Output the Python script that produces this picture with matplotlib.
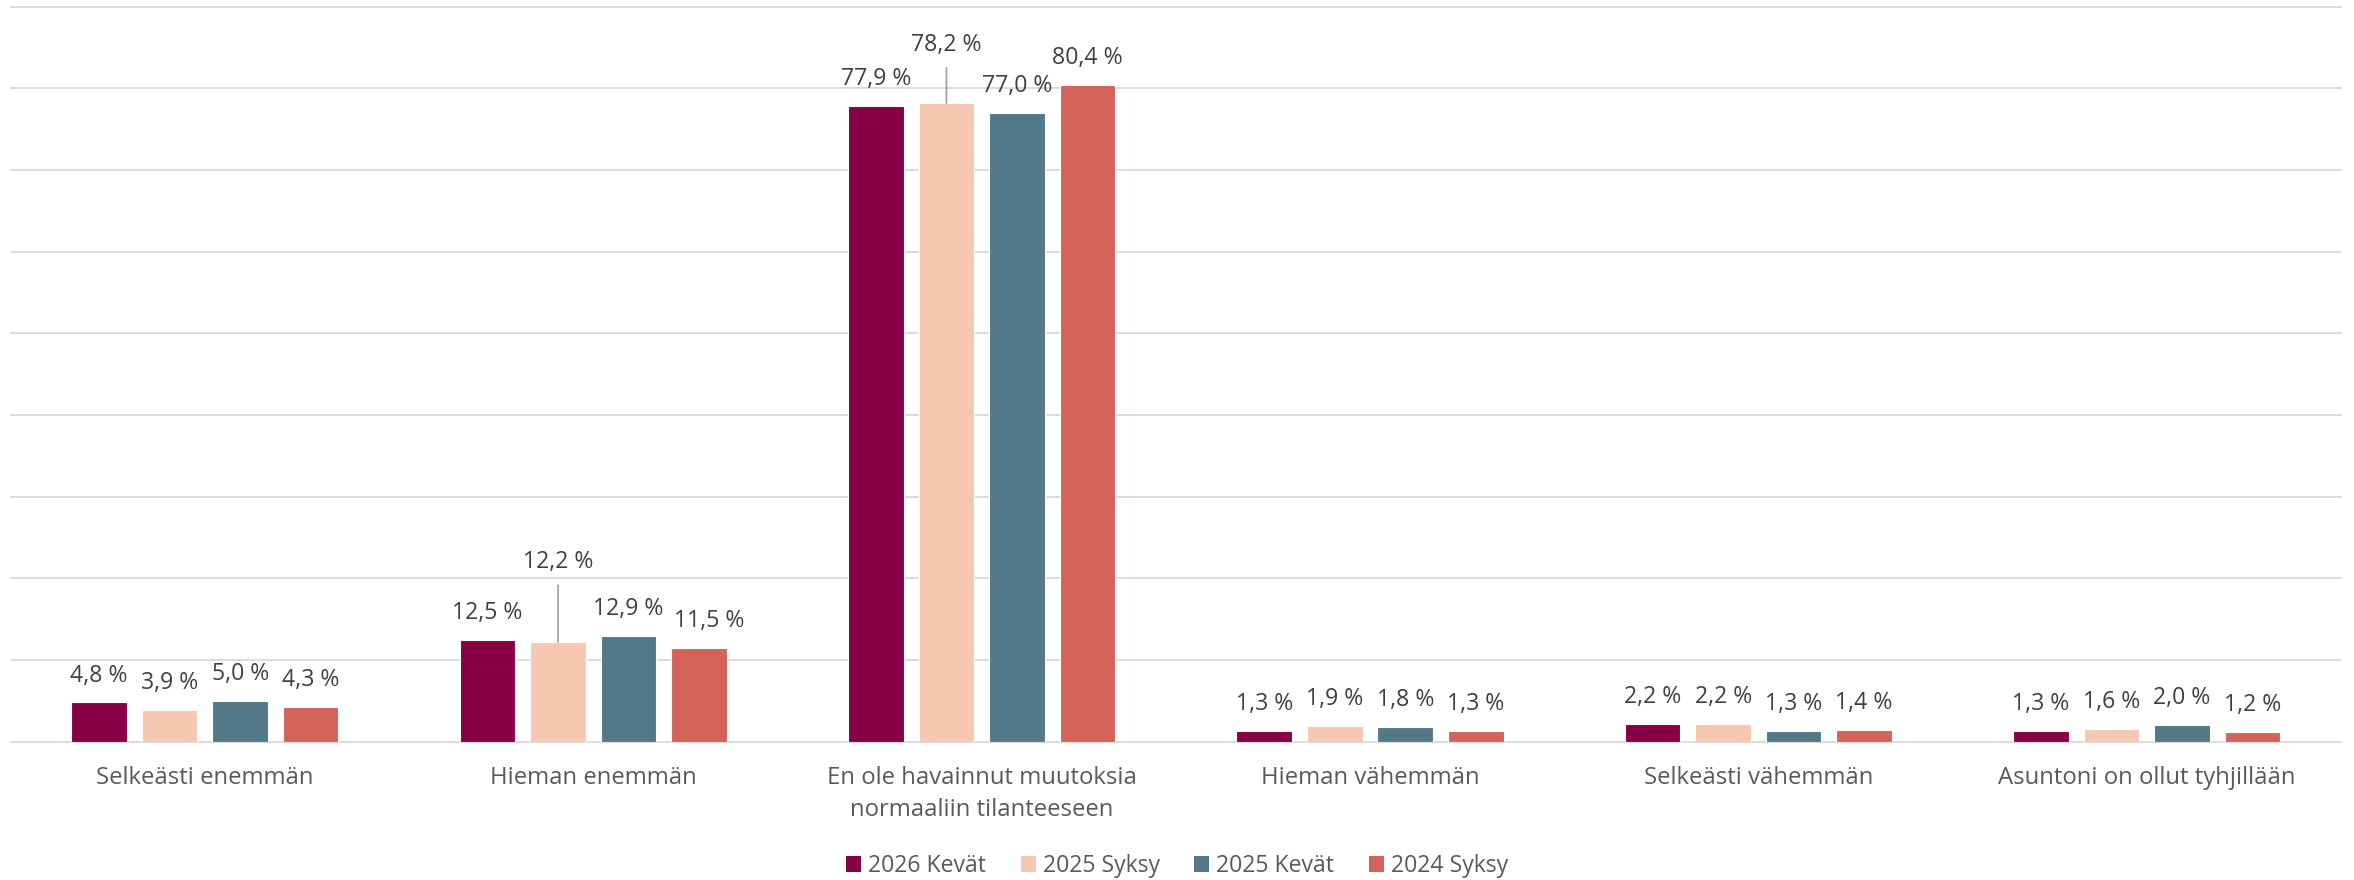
import matplotlib
matplotlib.use('Agg')
import numpy as np
import matplotlib.pyplot as plt
from matplotlib.patches import Patch

plt.rcParams['font.family'] = ['Open Sans', 'DejaVu Sans']

categories = ["Selkeästi enemmän", "Hieman enemmän",
              "En ole havainnut muutoksia\nnormaaliin tilanteeseen",
              "Hieman vähemmän", "Selkeästi vähemmän", "Asuntoni on ollut tyhjillään"]
series_names = ["2026 Kevät", "2025 Syksy", "2025 Kevät", "2024 Syksy"]
kevat_2026 = [4.8, 12.5, 77.9, 1.3, 2.2, 1.3]
syksy_2025 = [3.9, 12.2, 78.2, 1.9, 2.2, 1.6]
kevat_2025 = [5.0, 12.9, 77.0, 1.8, 1.3, 2.0]
syksy_2024 = [4.3, 11.5, 80.4, 1.3, 1.4, 1.2]
grid_values = list(range(0, 100, 10))

colors = ['#870045', '#F6C8B1', '#537887', '#D4645A']
series = [kevat_2026, syksy_2025, kevat_2025, syksy_2024]

# labels that were pushed away from their bar (series index, category index) -> offset in points
label_moves = {(1, 2): (0, 42), (1, 1): (0, 57.5), (3, 1): (7, 19.4)}

fig = plt.figure(figsize=(23.54, 8.8), dpi=100)
ax = fig.add_axes([0.00455, 0.1572, 0.9899, 0.8352])

x = np.arange(len(categories))
width = 0.1434
pitch = 0.1815
fs = 16.6

for v in grid_values:
    ax.axhline(v, color='#D9D9D9', lw=1.3, zorder=0, clip_on=False)

for i, (name, vals) in enumerate(zip(series_names, series)):
    pos = x + (i - 1.5) * pitch
    ax.bar(pos, vals, width, color=colors[i], edgecolor='white', linewidth=0.8,
           label=name, zorder=2)
    for j, (px, v) in enumerate(zip(pos, vals)):
        lab = f"{v:.1f} %".replace('.', ',')
        dx, dy = label_moves.get((i, j), (0, 19.4))
        if (i, j) in label_moves and dy > 30:
            ax.annotate(lab, xy=(px, v), xytext=(dx, dy), textcoords='offset points',
                        ha='center', va='center', fontsize=fs, color='#404040',
                        arrowprops=dict(arrowstyle='-', color='#A6A6A6', lw=1.3,
                                        shrinkA=6, shrinkB=0))
        else:
            ax.annotate(lab, xy=(px, v), xytext=(dx, dy), textcoords='offset points',
                        ha='center', va='center', fontsize=fs, color='#404040')

ax.set_xlim(-0.5, len(categories) - 0.5)
ax.set_ylim(0, 90)
ax.set_yticks([])
ax.set_xticks(x)
ax.set_xticklabels(categories, fontsize=17.2, color='#595959', linespacing=1.45)
ax.tick_params(axis='x', length=0, pad=17.5)
for s in ax.spines.values():
    s.set_visible(False)

handles = [Patch(facecolor=c, label=n) for c, n in zip(colors, series_names)]
fig.legend(handles=handles, loc='center', bbox_to_anchor=(0.5, 1 - 866 / 880), ncol=4,
           frameon=False, fontsize=fs, labelcolor='#595959',
           handlelength=0.65, handleheight=0.65, handletextpad=0.3, columnspacing=1.5)

fig.savefig('out.png', dpi=100)
